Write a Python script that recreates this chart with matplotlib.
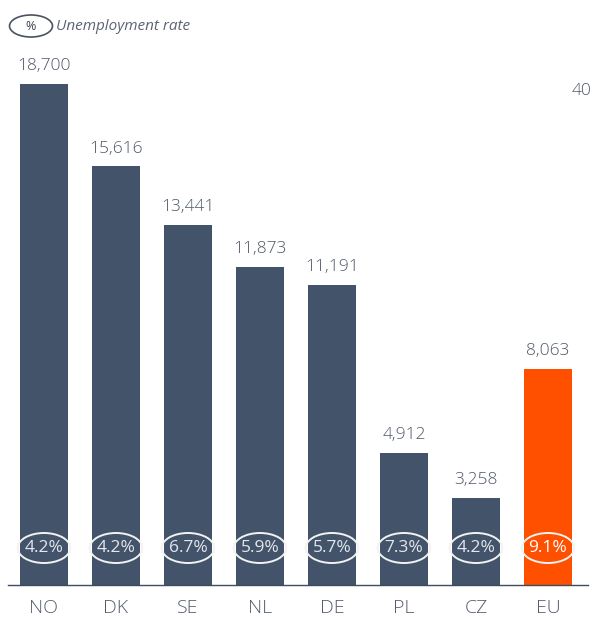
import matplotlib
matplotlib.use("Agg")
import matplotlib.pyplot as plt
from matplotlib.patches import Ellipse

countries = ["NO", "DK", "SE", "NL", "DE", "PL", "CZ", "EU"]
values = [18700, 15616, 13441, 11873, 11191, 4912, 3258, 8063]
unemployment = ["4.2%", "4.2%", "6.7%", "5.9%", "5.7%", "7.3%", "4.2%", "9.1%"]

plt.rcParams['font.family'] = ['Open Sans', 'DejaVu Sans']
plt.rcParams['font.weight'] = 'light'

W, H = 598, 617
fig = plt.figure(figsize=(W / 100, H / 100), dpi=100)

# axes placed in pixel terms: left 8, right 588, bottom 585, top 40
ax = fig.add_axes([8 / W, (H - 585) / H, 580 / W, 545 / H])
px_per_unit = 26.8 / 1000
ax.set_xlim(-0.5, 7.556)
ax.set_ylim(0, 545 / px_per_unit)

dark = "#435369"
orange = "#ff5000"
text_grey = "#4f5866"
colors = [dark] * 7 + [orange]

x = range(len(countries))
ax.bar(x, values, width=0.667, color=colors, zorder=2)

for i, v in enumerate(values):
    ax.text(i, v + 370, f"{v:,}", ha="center", va="bottom", fontsize=12.5,
            color=text_grey)
    cy = 37 / px_per_unit
    ax.add_patch(Ellipse((i, cy), 0.73, 30 / px_per_unit, facecolor="none",
                         edgecolor="#f2f2f2", lw=1.4, zorder=3))
    ax.text(i, cy, unemployment[i], ha="center", va="center", fontsize=12.5,
            fontweight="normal", color="white" if i == 7 else "#e3e8ef",
            zorder=4)

for s in ["top", "right", "left"]:
    ax.spines[s].set_visible(False)
ax.spines["bottom"].set_color("#3d4b5e")
ax.spines["bottom"].set_linewidth(1.0)
ax.set_yticks([])
ax.set_xticks(list(x))
ax.set_xticklabels(countries, fontsize=14, color="#535c6a")
ax.tick_params(axis="x", length=0, pad=10)

# legend marker at top
fig.patches.append(Ellipse((31 / W, 1 - 26 / H), 43 / W, 22 / H,
                           transform=fig.transFigure, facecolor="none",
                           edgecolor="#4a5261", lw=1.2))
fig.text(31 / W, 1 - 26 / H, "%", ha="center", va="center", fontsize=9,
         fontweight="normal", color="#3a4250")
fig.text(56 / W, 1 - 26 / H, "Unemployment rate", ha="left", va="center",
         fontsize=11, style="italic", fontweight="normal", color="#5b6472")

fig.text(592 / W, 1 - 91 / H, "40", ha="right", va="center", fontsize=12.5,
         color=text_grey)

fig.savefig("out.png", dpi=100)
